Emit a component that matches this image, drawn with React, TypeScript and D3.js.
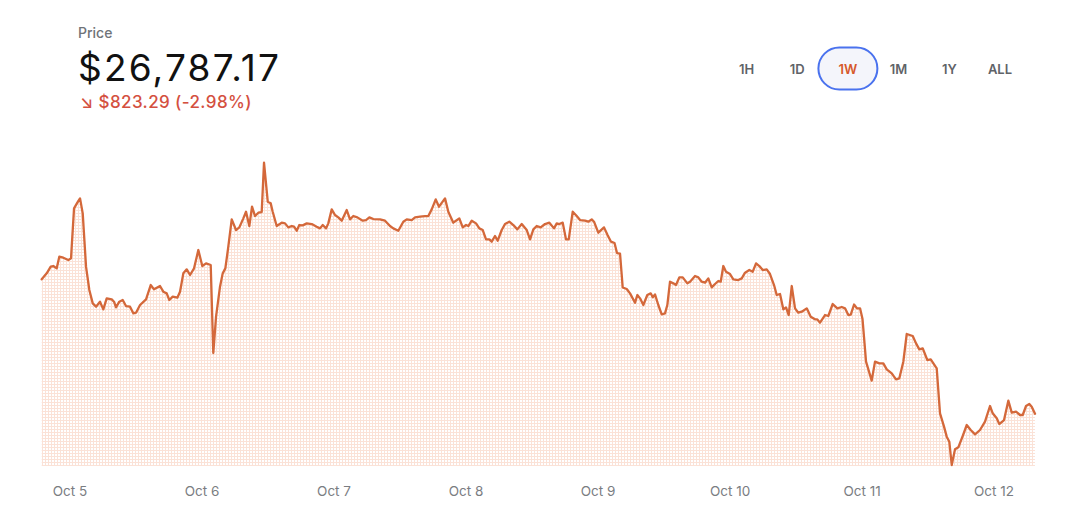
import React from "react";
import * as d3 from "d3";

// [hours since Oct 5 00:00, price USD]
const series: [number, number][] = [
  [-5.15, 27594], [-4.24, 27630], [-3.51, 27670], [-3.04, 27674], [-2.42, 27660], [-1.95, 27730],
  [-1.22, 27724], [-0.31, 27710], [0.18, 27720], [0.73, 28020], [1.33, 28054], [1.82, 28080],
  [2.31, 27990], [2.91, 27670], [3.51, 27530], [4.13, 27450], [4.73, 27430], [5.45, 27460],
  [6.05, 27414], [6.67, 27480], [7.58, 27474], [8.0, 27460], [8.36, 27426], [8.96, 27460],
  [9.58, 27470], [10.18, 27434], [10.91, 27430], [11.51, 27390], [12.0, 27394], [12.73, 27440],
  [13.82, 27474], [14.67, 27560], [15.27, 27534], [16.36, 27554], [16.96, 27520], [17.58, 27510],
  [18.05, 27470], [18.67, 27490], [19.51, 27484], [20.0, 27520], [20.6, 27630], [21.22, 27654],
  [21.82, 27620], [22.55, 27660], [23.33, 27770], [24.05, 27674], [24.73, 27690], [25.58, 27680],
  [26.05, 27152], [26.55, 27370], [27.27, 27550], [27.76, 27630], [28.24, 27660], [28.78, 27790],
  [29.4, 27954], [30.18, 27890], [30.78, 27906], [31.51, 27960], [32.0, 28000], [32.6, 27914],
  [33.09, 28030], [33.64, 27974], [34.24, 27994], [34.85, 27998], [35.27, 28294], [35.95, 28060],
  [36.49, 28050], [36.85, 28000], [37.58, 27914], [38.49, 27934], [39.09, 27930], [39.69, 27906],
  [40.31, 27914], [40.73, 27910], [41.22, 27886], [41.69, 27920], [42.31, 27918], [43.04, 27930],
  [43.95, 27926], [44.85, 27910], [45.45, 27900], [45.95, 27920], [46.55, 27900], [46.96, 27930],
  [47.58, 28014], [48.18, 27980], [48.78, 27966], [49.4, 27946], [50.31, 28010], [50.91, 27954],
  [51.51, 27974], [52.24, 27966], [53.22, 27946], [53.82, 27950], [54.42, 27966], [55.15, 27956],
  [56.36, 27954], [57.27, 27946], [58.18, 27914], [58.78, 27900], [59.69, 27886], [60.6, 27940],
  [61.22, 27954], [62.13, 27950], [62.73, 27966], [63.64, 27970], [64.55, 27974], [65.15, 27974],
  [65.76, 28014], [66.49, 28074], [67.09, 28030], [68.18, 28080], [68.78, 28000], [69.69, 27934],
  [70.18, 27946], [70.78, 27960], [71.4, 27906], [72.0, 27920], [72.42, 27914], [73.04, 27946],
  [73.82, 27930], [74.42, 27900], [75.04, 27890], [75.64, 27834], [76.24, 27834], [76.67, 27820],
  [77.27, 27854], [77.76, 27826], [78.49, 27890], [79.09, 27926], [79.87, 27940], [80.6, 27920],
  [81.33, 27894], [82.13, 27926], [83.04, 27890], [83.64, 27834], [84.24, 27894], [84.85, 27914],
  [85.58, 27906], [86.36, 27926], [87.15, 27934], [88.0, 27900], [88.49, 27930], [88.96, 27926],
  [89.58, 27934], [90.18, 27834], [90.67, 27834], [91.4, 28000], [92.13, 27974], [92.73, 27950],
  [93.64, 27946], [94.24, 27940], [94.85, 27954], [95.27, 27940], [96.05, 27874], [97.09, 27906],
  [97.73, 27860], [98.36, 27820], [99.0, 27812], [99.45, 27752], [100.0, 27749], [100.49, 27545],
  [101.22, 27536], [101.82, 27510], [102.73, 27454], [103.15, 27500], [103.64, 27480], [104.24, 27440],
  [104.96, 27500], [105.58, 27510], [105.95, 27486], [106.36, 27504], [106.96, 27440], [107.58, 27384],
  [108.18, 27390], [108.6, 27440], [109.09, 27580], [109.69, 27570], [110.18, 27560], [110.78, 27606],
  [111.4, 27606], [112.24, 27570], [112.73, 27580], [113.64, 27614], [114.24, 27606], [114.85, 27580],
  [115.45, 27574], [116.05, 27600], [116.67, 27546], [117.27, 27566], [117.87, 27584], [118.31, 27580],
  [118.78, 27674], [119.27, 27640], [120.0, 27626], [120.6, 27594], [121.51, 27590], [122.13, 27600],
  [122.73, 27634], [123.51, 27650], [124.13, 27640], [124.73, 27690], [125.33, 27674], [125.95, 27650],
  [126.67, 27654], [127.27, 27626], [128.0, 27560], [128.49, 27500], [129.09, 27506], [129.69, 27414],
  [130.18, 27426], [130.67, 27380], [131.22, 27554], [131.82, 27420], [132.42, 27394], [133.04, 27400],
  [133.95, 27420], [134.67, 27370], [135.45, 27354], [135.87, 27354], [136.36, 27334], [137.27, 27380],
  [137.87, 27374], [138.67, 27446], [139.51, 27420], [140.31, 27428], [140.91, 27420], [141.51, 27380],
  [141.95, 27383], [142.55, 27443], [143.09, 27420], [143.64, 27420], [144.09, 27356], [144.73, 27100],
  [145.76, 26986], [146.36, 27100], [147.15, 27090], [147.87, 27090], [148.49, 27054], [149.4, 27030],
  [150.18, 26994], [150.78, 27000], [151.51, 27100], [152.13, 27266], [153.22, 27254], [153.82, 27210],
  [154.42, 27174], [155.04, 27180], [155.87, 27110], [156.49, 27114], [157.58, 27060], [158.18, 26790],
  [158.91, 26710], [159.4, 26650], [159.87, 26620], [160.31, 26480], [160.91, 26574], [161.51, 26586],
  [162.31, 26654], [163.04, 26720], [163.76, 26690], [164.55, 26664], [165.45, 26690], [166.36, 26740],
  [167.27, 26834], [167.76, 26790], [168.49, 26760], [168.96, 26726], [169.82, 26750], [170.6, 26866],
  [171.22, 26794], [172.0, 26800], [172.73, 26780], [173.22, 26780], [173.82, 26834], [174.42, 26846],
  [174.85, 26830], [175.45, 26787.17],
];

const rangeButtons = ["1H", "1D", "1W", "1M", "1Y", "ALL"];
const activeRange = "1W";
const priceLabel = "Price";
const currentPrice = "$26,787.17";
const changeLabel = "↘ $823.29 (-2.98%)";
const yDomain: [number, number] = [26480, 28300];

const base = new Date(2023, 9, 5, 0, 0, 0).getTime();
const toDate = (h: number) => new Date(base + h * 3600 * 1000);

export default function App() {
  const W = 1080;
  const H = 525;
  const left = 41.7;
  const right = 1035;
  const bottom = 465;
  const top = 161.7;

  const dates = series.map((d) => toDate(d[0]));
  const x = d3
    .scaleTime()
    .domain(d3.extent(dates) as [Date, Date])
    .range([left, right]);
  const y = d3.scaleLinear().domain(yDomain).range([bottom, top]);

  const line = d3
    .line<[number, number]>()
    .x((d) => x(toDate(d[0])))
    .y((d) => y(d[1]));
  const area = d3
    .area<[number, number]>()
    .x((d) => x(toDate(d[0])))
    .y0(bottom + 1)
    .y1((d) => y(d[1]));

  const ticks = x.ticks(d3.timeDay.every(1)!);
  const fmt = d3.timeFormat("%b %-d");

  const btnX = d3.scalePoint<string>().domain(rangeButtons).range([746.5, 1000]);

  const font = "Inter, 'Noto Sans', sans-serif";

  return (
    <div style={{ position: "absolute", left: 0, top: 0, background: "#fff" }}>
      <svg width={W} height={H} style={{ display: "block" }} fontFamily={font}>
        <defs>
          <pattern id="grid" width={3} height={3} patternUnits="userSpaceOnUse">
            <rect x={0} y={0} width={3} height={1} fill="#fbe2d7" />
            <rect x={0} y={0} width={1} height={3} fill="#fbe2d7" />
          </pattern>
        </defs>
        <rect width={W} height={H} fill="#fff" />

        <text x={78} y={37.7} fontSize={14} fill="#6f7378" fontWeight={500}>
          {priceLabel}
        </text>
        <text x={78} y={81} fontSize={37} fill="#111" fontWeight={400} letterSpacing={2.2}>
          {currentPrice}
        </text>
        <text x={80} y={107.7} fontSize={17} fill="#d4503f" fontWeight={500} letterSpacing={0.4}>
          {changeLabel}
        </text>

        {rangeButtons.map((b) => {
          const cx = btnX(b)!;
          const active = b === activeRange;
          return (
            <g key={b}>
              {active && (
                <rect
                  x={cx - 29.5}
                  y={47.5}
                  width={59}
                  height={42}
                  rx={21}
                  fill="#f4f5fb"
                  stroke="#4a72ee"
                  strokeWidth={2}
                />
              )}
              <text
                x={cx}
                y={73.5}
                textAnchor="middle"
                fontSize={13}
                fontWeight={600}
                fill={active ? "#d6582a" : "#5f6368"}
              >
                {b}
              </text>
            </g>
          );
        })}

        <path d={area(series) || ""} fill="url(#grid)" />
        <path
          d={line(series) || ""}
          fill="none"
          stroke="#d4683a"
          strokeWidth={2.3}
          strokeLinejoin="round"
          strokeLinecap="round"
        />

        {ticks.map((t) => (
          <text
            key={t.getTime()}
            x={x(t)}
            y={496}
            textAnchor="middle"
            fontSize={13.5}
            fill="#7a7d82"
          >
            {fmt(t)}
          </text>
        ))}
      </svg>
    </div>
  );
}
